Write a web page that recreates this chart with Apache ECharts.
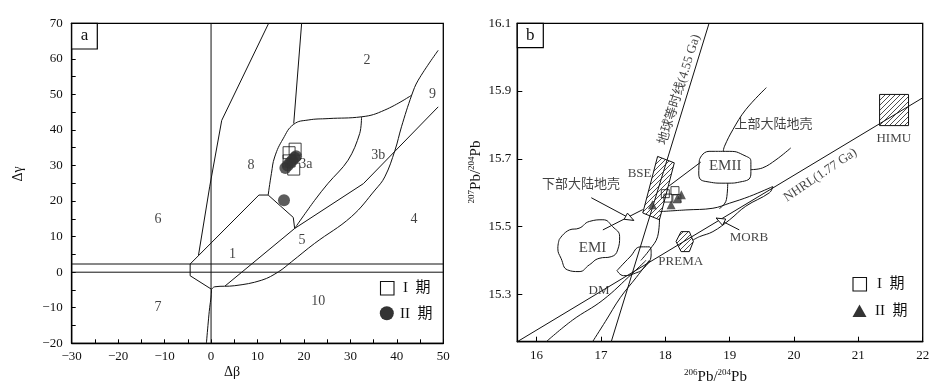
<!DOCTYPE html>
<html><head><meta charset="utf-8">
<script src="https://cdn.jsdelivr.net/npm/echarts@6/dist/echarts.min.js"></script>
<style>html,body{margin:0;padding:0;background:#fff}#c{width:948px;height:392px}</style>
</head><body><div id="c"></div>
<script>
// ================= Panel a (Δβ – Δγ) =================
const aXRange = [-30, 50];
const aYRange = [-20, 70];
const aSquares = [[18.1,34.6],[16.8,33.6],[16.8,31.3],[17.8,29.0]];          // I 期
const aCircles = [[16.0,29.3],[16.5,30.0],[17.0,30.8],[17.5,31.5],[18.0,32.2],[18.3,32.6],[15.7,20.2]]; // II 期
const aLineY0 = [[-30,0],[50,0]];
const aLineY2 = [[-30,2.3],[50,2.3]];
const aLineX0 = [[0,-20],[0,70]];
const aCurveLow = [[0.1,-4.8],[0.0,-7],[-0.3,-10],[-0.6,-14],[-1.0,-20]];
const aHex = [[0.1,-4.8],[-4.5,-1],[-4.5,2.3],[10.3,21.7],[12.3,21.7],[17.7,15.4],[18,12.3]];
const aLine68 = [[12.4,70],[2.3,42.7],[-0.3,24],[-2.7,4.8]];
const aLine82 = [[19.5,70],[17.8,41.8]];
const aCurve3a = [[12.3,21.7],[13.0,27.8],[13.7,32.4],[15.5,37.5],[17.8,41.6],[20.9,42.8],[25.2,43.2],[32.4,43.7],[37.4,45.6],[43.2,49.8]];
const aCurveA = [[48.9,62.4],[44.6,54],[43.2,49.8],[41.0,40.9],[39.6,34.3],[37.4,26.8],[35.3,23.1],[30.2,15.6],[22.3,8.1],[17.3,2.9],[14.5,0.1],[10.9,-2.25],[5.1,-3.8],[0.8,-4.1],[0.1,-4.8]];
const aLine15 = [[3.0,-3.9],[18,12.3],[32.8,24.9],[48.9,46.5]];
const aLine3ab = [[32.4,43.7],[32.0,39],[29.5,31.5],[25.2,25],[22.3,20.2],[18,12.3]];
const aLabels = [['2',33.6,59.6],['9',47.7,50],['3b',36,32.9],['8',8.6,30],['3a',20.4,30.3],['6',-11.4,14.8],['4',43.7,14.8],['1',4.6,5.1],['5',19.6,9],['7',-11.4,-9.9],['10',23.1,-8.1]];

// ================= Panel b (206Pb/204Pb – 207Pb/204Pb) =================
const bXRange = [15.7, 22];
const bYRange = [15.16, 16.1];
const bXTicks = [16,17,18,19,20,21,22];
const bYTicks = [15.3,15.5,15.7,15.9,16.1];
const bSquares = [[18.00,15.597],[18.15,15.606],[18.04,15.584],[18.18,15.582]];   // I 期
const bTriangles = [[17.80,15.564],[18.09,15.564],[18.19,15.584],[18.25,15.594]]; // II 期
const bGeochron = [[17.16,15.16],[18.68,16.10]];
const bNHRL = [[15.7,15.16],[22,15.88]];
const bLineP = [[16.15,15.16],[16.56,15.224],[17.03,15.283],[17.49,15.362],[17.7,15.40]];
const bLineQ = [[16.87,15.16],[17.07,15.22],[17.3,15.29],[17.55,15.35],[17.75,15.40]];
const bBlob = [[17.25,15.37],[17.45,15.41],[17.62,15.44],[17.75,15.44],[17.78,15.42],[17.68,15.38],[17.5,15.36],[17.35,15.355],[17.25,15.37]];
const bCurveR = [[17.91,15.525],[17.88,15.47],[17.75,15.43],[17.62,15.40]];
const bLineS1 = [[17.03,15.49],[17.65,15.55]];
const bLineS2 = [[18.06,15.62],[18.55,15.69]];
const bMorbUp = [[17.91,15.544],[18.32,15.549],[18.74,15.554],[19.0,15.569],[19.31,15.589],[19.67,15.618]];
const bMorbLow = [[19.67,15.618],[19.62,15.60],[19.25,15.56],[19.0,15.52],[18.74,15.485],[18.53,15.47],[18.43,15.46]];
const bEM2Low = [[18.97,15.628],[18.95,15.58],[18.84,15.553]];
const bUC1 = [[19.57,15.91],[19.25,15.845],[19.05,15.786],[18.92,15.737],[18.9,15.722]];
const bUC2 = [[19.33,15.668],[19.51,15.673],[19.72,15.697],[19.95,15.732]];
const bEM1 = [[16.35,15.461],[16.51,15.49],[16.66,15.495],[16.82,15.515],[17.03,15.52],[17.18,15.50],[17.29,15.47],[17.26,15.431],[17.16,15.411],[16.97,15.406],[16.82,15.387],[16.66,15.367],[16.48,15.372],[16.38,15.406],[16.33,15.436],[16.35,15.461]];
const bEM2 = [[18.53,15.697],[18.68,15.722],[18.94,15.722],[19.26,15.707],[19.33,15.688],[19.33,15.658],[19.20,15.633],[18.94,15.628],[18.63,15.633],[18.52,15.658],[18.53,15.697]];
const bBSE = [[17.88,15.707],[18.14,15.688],[17.91,15.52],[17.65,15.54]];
const bHIMU = [[21.33,15.89],[21.78,15.89],[21.78,15.798],[21.33,15.798]];
const bPREMA = [[18.167,15.456],[18.245,15.485],[18.374,15.485],[18.436,15.456],[18.374,15.426],[18.245,15.426]];
const bArrowLC = [[16.85,15.585],[17.51,15.518]];
const bArrowMORB = [[19.15,15.49],[18.79,15.525]];
const bLabels = [
  ['上部大陆地壳',19.68,15.80,0,13],['EMII',18.93,15.68,0,15],['BSE',17.6,15.655,0,13],
  ['下部大陆地壳',16.69,15.625,0,13],['HIMU',21.55,15.76,0,13],['MORB',19.3,15.466,0,13],
  ['PREMA',18.24,15.396,0,13],['DM',16.97,15.31,0,13],['EMI',16.87,15.436,0,15],
  ['地球等时线(4.55 Ga)',18.22,15.904,72.8,13],['NHRL(1.77 Ga)',20.41,15.652,34,13]
];

// ---------------- helpers ----------------
const SERIF = "'Liberation Serif','Noto Sans CJK SC',serif";
function hatch(){
  const c=document.createElement('canvas'); c.width=5; c.height=5;
  const g=c.getContext('2d'); g.strokeStyle='#222'; g.lineWidth=0.8;
  g.beginPath(); g.moveTo(0,5); g.lineTo(5,0); g.moveTo(-1,1); g.lineTo(1,-1); g.moveTo(4,6); g.lineTo(6,4); g.stroke();
  return c;
}
const HATCH = hatch();
const minus = v => (v<0 ? '\u2212'+Math.abs(v) : String(v));
function ln(data, gi, smooth){
  return {type:'line', xAxisIndex:gi, yAxisIndex:gi, data, showSymbol:false, symbol:'none', smooth: smooth||false,
    lineStyle:{color:'#111', width:1}, silent:true, z:2, animation:false};
}
function poly(points, gi){
  return {type:'custom', xAxisIndex:gi, yAxisIndex:gi, data:[points[0]], silent:true, z:3, animation:false,
    renderItem:(p,api)=>({type:'polygon', shape:{points:points.map(q=>api.coord(q))},
      style:{fill:{image:HATCH, repeat:'repeat'}, stroke:'#111', lineWidth:1}})};
}
function arrow(seg, gi){
  return {type:'custom', xAxisIndex:gi, yAxisIndex:gi, data:[seg[0]], silent:true, z:4, animation:false,
    renderItem:(p,api)=>{
      const a=api.coord(seg[0]), b=api.coord(seg[1]);
      const dx=b[0]-a[0], dy=b[1]-a[1], L=Math.hypot(dx,dy), ux=dx/L, uy=dy/L, nx=-uy, ny=ux;
      const h=9, w=3.5, bx=b[0]-ux*h, by=b[1]-uy*h;
      return {type:'group', children:[
        {type:'line', shape:{x1:a[0],y1:a[1],x2:b[0],y2:b[1]}, style:{stroke:'#111',lineWidth:1}},
        {type:'polygon', shape:{points:[b,[bx+nx*w,by+ny*w],[bx-nx*w,by-ny*w]]}, style:{fill:'#fff',stroke:'#111',lineWidth:1}}
      ]};
    }};
}
function labels(arr, gi){
  return {type:'scatter', xAxisIndex:gi, yAxisIndex:gi, symbolSize:0, silent:true, z:6, animation:false,
    data: arr.map(l=>({value:[l[1],l[2]], name:l[0],
      label:{show:true, position:'inside', formatter:'{b}', rotate:l[3]||0, fontSize:l[4]||14,
        color:'#111', fontFamily:SERIF}}))};
}
const axisCommon = {
  axisLine:{show:true, onZero:false, lineStyle:{color:'#000', width:1.3}},
  splitLine:{show:false},
};

const chart = echarts.init(document.getElementById('c'), null, {renderer:'canvas'});
chart.setOption({
  backgroundColor:'#fff',
  animation:false,
  grid:[
    {left:71.7, top:23.3, width:371.6, height:320, show:true, borderColor:'#000', borderWidth:1.3, backgroundColor:'transparent'},
    {left:517.3, top:23.3, width:405.4, height:318.4, show:true, borderColor:'#000', borderWidth:1.3, backgroundColor:'transparent'}
  ],
  xAxis:[
    Object.assign({gridIndex:0, type:'value', min:aXRange[0], max:aXRange[1], interval:5,
      axisTick:{inside:true, length:4, lineStyle:{color:'#000'}},
      axisLabel:{margin:7, color:'#111', fontSize:13, fontFamily:SERIF, formatter:v=> v%10===0 ? minus(v) : ''}}, axisCommon),
    Object.assign({gridIndex:1, type:'value', min:bXRange[0], max:bXRange[1],
      axisTick:{inside:true, length:5, customValues:bXTicks, lineStyle:{color:'#000'}},
      axisLabel:{margin:7, color:'#111', fontSize:13, fontFamily:SERIF, customValues:bXTicks}}, axisCommon)
  ],
  yAxis:[
    Object.assign({gridIndex:0, type:'value', min:aYRange[0], max:aYRange[1], interval:5,
      axisTick:{inside:true, length:4, lineStyle:{color:'#000'}},
      axisLabel:{margin:9, color:'#111', fontSize:13, fontFamily:SERIF, formatter:v=> v%10===0 ? minus(v) : ''}}, axisCommon),
    Object.assign({gridIndex:1, type:'value', min:bYRange[0], max:bYRange[1],
      axisTick:{inside:true, length:5, customValues:bYTicks, lineStyle:{color:'#000'}},
      axisLabel:{margin:6, color:'#111', fontSize:13, fontFamily:SERIF, customValues:bYTicks, formatter:v=>v.toFixed(1)}}, axisCommon)
  ],
  series:[
    // panel a
    ln(aLineY0,0), ln(aLineY2,0), ln(aLineX0,0), ln(aCurveLow,0,0.4), ln(aHex,0), ln(aLine68,0),
    ln(aLine82,0), ln(aCurve3a,0,0.45), ln(aCurveA,0,0.4), ln(aLine15,0), ln(aLine3ab,0,0.35),
    labels(aLabels,0),
    {type:'scatter', xAxisIndex:0, yAxisIndex:0, data:aSquares, symbol:'rect', symbolSize:12, z:5, silent:true,
      itemStyle:{color:'rgba(0,0,0,0)', borderColor:'#111', borderWidth:1}},
    {type:'scatter', xAxisIndex:0, yAxisIndex:0, data:aCircles, symbol:'circle', symbolSize:12, z:6, silent:true,
      itemStyle:{color:'#333'}},
    // panel b
    ln(bGeochron,1), ln(bNHRL,1), ln(bLineP,1,0.4), ln(bLineQ,1,0.4), ln(bBlob,1,0.5), ln(bCurveR,1,0.4),
    ln(bLineS1,1), ln(bLineS2,1), ln(bMorbUp,1,0.4), ln(bMorbLow,1,0.4), ln(bEM2Low,1,0.5),
    ln(bUC1,1,0.4), ln(bUC2,1,0.4),
    Object.assign(ln(bEM1,1,0.5),{z:3}), Object.assign(ln(bEM2,1,0.6),{z:3}),
    poly(bBSE,1), poly(bHIMU,1), poly(bPREMA,1),
    arrow(bArrowLC,1), arrow(bArrowMORB,1),
    labels(bLabels,1),
    {type:'scatter', xAxisIndex:1, yAxisIndex:1, data:bSquares, symbol:'rect', symbolSize:8, z:5, silent:true,
      itemStyle:{color:'rgba(0,0,0,0)', borderColor:'#111', borderWidth:1}},
    {type:'scatter', xAxisIndex:1, yAxisIndex:1, data:bTriangles, symbol:'triangle', symbolSize:9, z:6, silent:true,
      itemStyle:{color:'#333'}}
  ],
  graphic:[
    {type:'rect', shape:{x:71.7,y:23.3,width:25.6,height:25.7}, style:{fill:'#fff',stroke:'#000',lineWidth:1.2}, z:10},
    {type:'text', x:84.5, y:36, style:{text:'a', font:'17px '+SERIF, fill:'#111', align:'center', verticalAlign:'middle'}, z:11},
    {type:'rect', shape:{x:517.3,y:23.3,width:26,height:24.4}, style:{fill:'#fff',stroke:'#000',lineWidth:1.2}, z:10},
    {type:'text', x:530.3, y:35.5, style:{text:'b', font:'17px '+SERIF, fill:'#111', align:'center', verticalAlign:'middle'}, z:11},
    {type:'text', x:232, y:372, style:{text:'Δβ', font:'14px '+SERIF, fill:'#111', align:'center', verticalAlign:'middle'}},
    {type:'text', x:18, y:174, rotation:Math.PI/2, style:{text:'Δγ', font:'14px '+SERIF, fill:'#111', align:'center', verticalAlign:'middle'}},
    {type:'text', x:715.5, y:377, style:{text:'{s|206}{n|Pb/}{s|204}{n|Pb}', align:'center', verticalAlign:'middle', fill:'#111',
      rich:{s:{fontSize:9, fontFamily:SERIF, padding:[0,0,8,0], fill:'#111'}, n:{fontSize:15, fontFamily:SERIF, fill:'#111'}}}},
    {type:'text', x:476, y:172, rotation:Math.PI/2, style:{text:'{s|207}{n|Pb/}{s|204}{n|Pb}', align:'center', verticalAlign:'middle', fill:'#111',
      rich:{s:{fontSize:9, fontFamily:SERIF, padding:[0,0,8,0], fill:'#111'}, n:{fontSize:15, fontFamily:SERIF, fill:'#111'}}}},
    {type:'rect', shape:{x:380.5,y:281.5,width:13.5,height:13.5}, style:{fill:'#fff',stroke:'#111',lineWidth:1.1}},
    {type:'text', x:403, y:288.5, style:{text:'I  期', font:'15px '+SERIF, fill:'#111', verticalAlign:'middle'}},
    {type:'circle', shape:{cx:386.8,cy:313.3,r:7}, style:{fill:'#333'}},
    {type:'text', x:400, y:314, style:{text:'II  期', font:'15px '+SERIF, fill:'#111', verticalAlign:'middle'}},
    {type:'rect', shape:{x:853,y:277.5,width:13.5,height:13.5}, style:{fill:'#fff',stroke:'#111',lineWidth:1.1}},
    {type:'text', x:877, y:284.5, style:{text:'I  期', font:'15px '+SERIF, fill:'#111', verticalAlign:'middle'}},
    {type:'polygon', shape:{points:[[859.5,304.5],[866.5,317],[852.5,317]]}, style:{fill:'#333'}},
    {type:'text', x:875, y:311.5, style:{text:'II  期', font:'15px '+SERIF, fill:'#111', verticalAlign:'middle'}}
  ]
});
</script></body></html>
